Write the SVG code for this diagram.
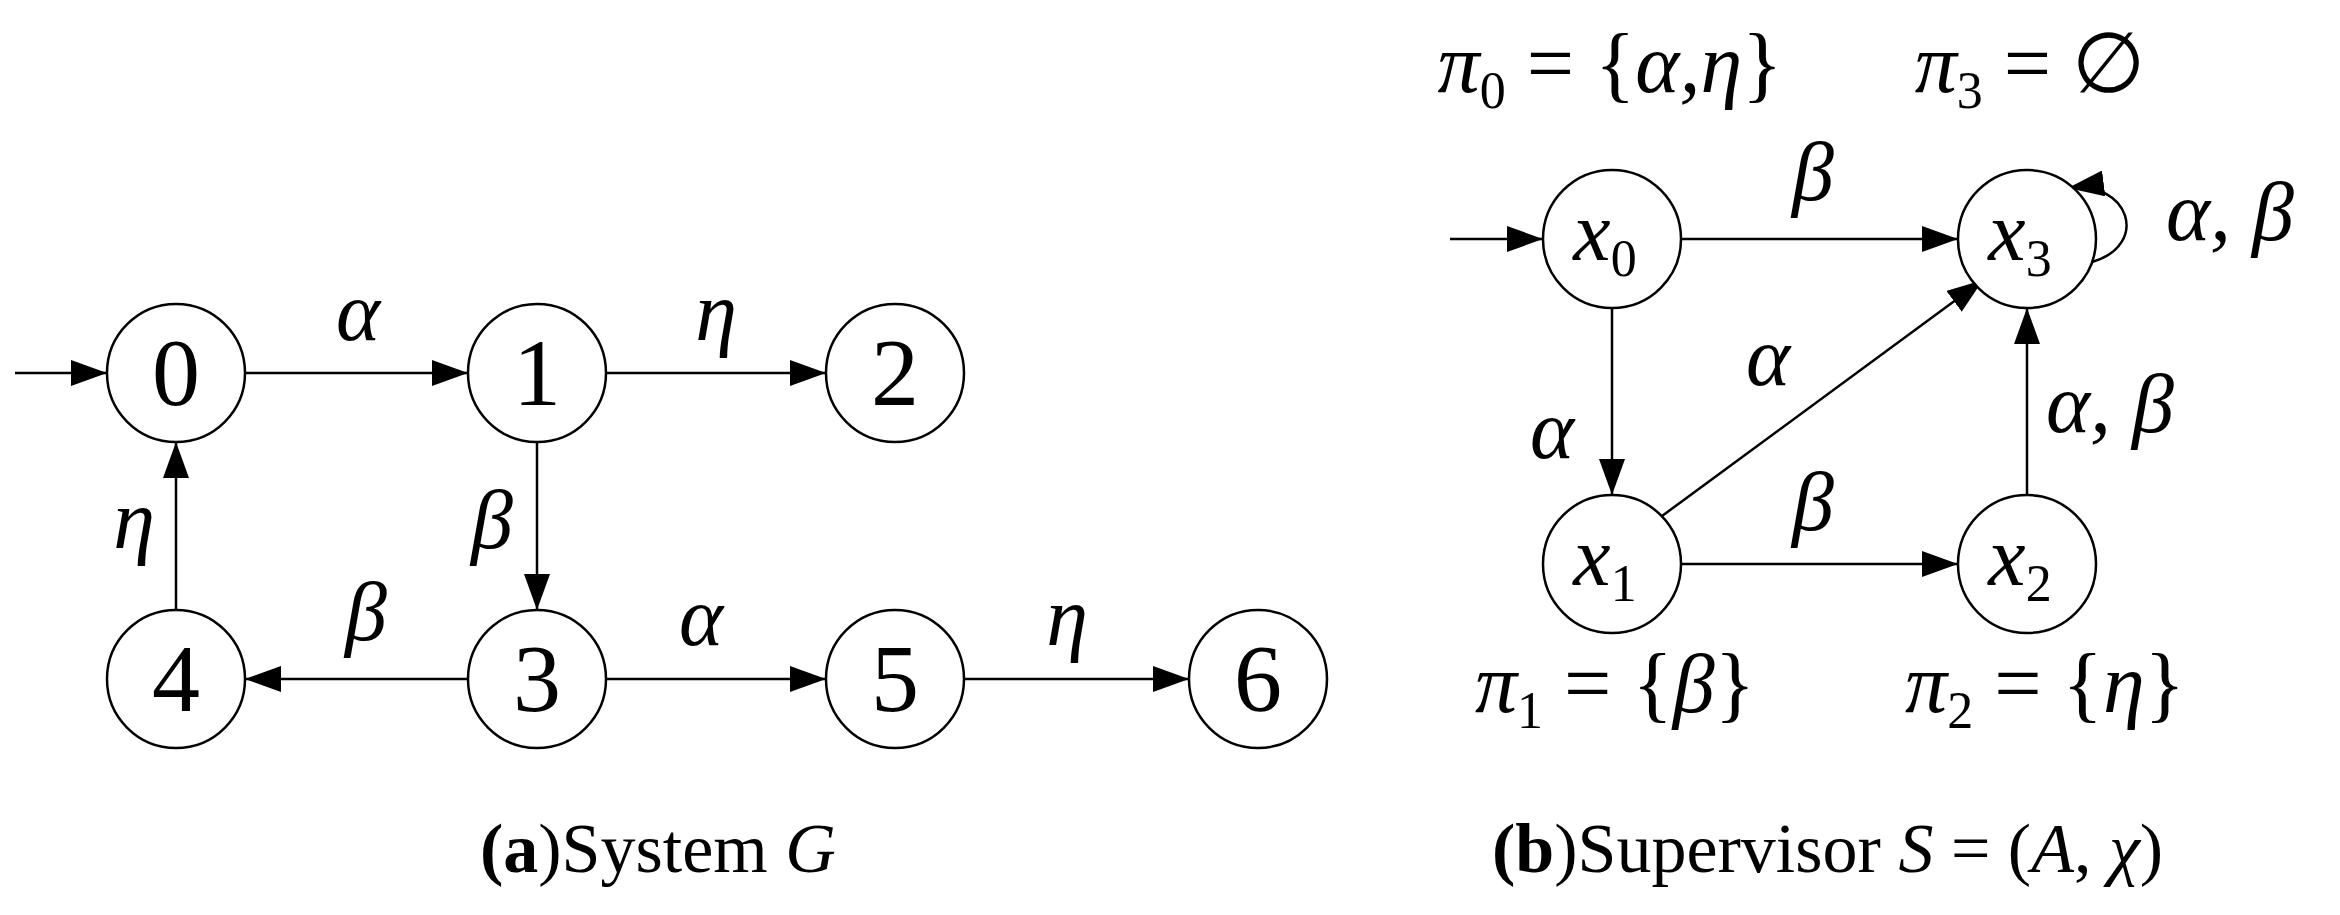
<svg xmlns="http://www.w3.org/2000/svg" width="2340" height="915" viewBox="0 0 2340 915">
<style>
.n{fill:#fff;stroke:#000;stroke-width:2.5}
.t{font-family:'Liberation Serif','DejaVu Serif','Times New Roman',serif;font-size:96px;text-anchor:middle}
.l{font-family:'Liberation Serif','DejaVu Serif','Times New Roman',serif;font-style:italic;font-size:84px;text-anchor:middle}
.s{font-size:52px;font-style:normal}
.c{font-family:'Liberation Serif','DejaVu Serif','Times New Roman',serif;font-size:70px}
</style>
<defs><marker id="b" markerWidth="36" markerHeight="26" refX="36" refY="13" orient="auto" markerUnits="userSpaceOnUse" viewBox="0 0 36 26"><path d="M0,0L36,13L0,26z"/></marker></defs>
<g id="edges" style="stroke:#000;stroke-width:2.5;fill:none">
<path d="M15,373H107" marker-end="url(#b)"/>
<path d="M245,373H468" marker-end="url(#b)"/>
<path d="M606,373H826" marker-end="url(#b)"/>
<path d="M537,442V610" marker-end="url(#b)"/>
<path d="M468,679H245" marker-end="url(#b)"/>
<path d="M606,679H826" marker-end="url(#b)"/>
<path d="M964,679H1189" marker-end="url(#b)"/>
<path d="M176,610V442" marker-end="url(#b)"/>
<path d="M1450,239H1543" marker-end="url(#b)"/>
<path d="M1681,239H1958" marker-end="url(#b)"/>
<path d="M1612,308V495" marker-end="url(#b)"/>
<path d="M1681,564H1958" marker-end="url(#b)"/>
<path d="M2027,495V308" marker-end="url(#b)"/>
<path d="M1662,516L1983,280" marker-end="url(#b)"/>
<path d="M2092,262C2150,245 2130,180 2068,188" marker-end="url(#b)"/>
</g>
<g id="n0"><circle class="n" cx="176" cy="373" r="69"/><text class="t" x="176" y="405">0</text></g>
<g id="n1"><circle class="n" cx="537" cy="373" r="69"/><text class="t" x="537" y="405">1</text></g>
<g id="n2"><circle class="n" cx="895" cy="373" r="69"/><text class="t" x="895" y="405">2</text></g>
<g id="n3"><circle class="n" cx="537" cy="679" r="69"/><text class="t" x="537" y="711">3</text></g>
<g id="n4"><circle class="n" cx="176" cy="679" r="69"/><text class="t" x="176" y="711">4</text></g>
<g id="n5"><circle class="n" cx="895" cy="679" r="69"/><text class="t" x="895" y="711">5</text></g>
<g id="n6"><circle class="n" cx="1258" cy="679" r="69"/><text class="t" x="1258" y="711">6</text></g>
<g id="x0"><circle class="n" cx="1612" cy="239" r="69"/><text class="l" x="1605" y="260">x<tspan class="s" dy="16">0</tspan></text></g>
<g id="x3"><circle class="n" cx="2027" cy="239" r="69"/><text class="l" x="2020" y="260">x<tspan class="s" dy="16">3</tspan></text></g>
<g id="x1"><circle class="n" cx="1612" cy="564" r="69"/><text class="l" x="1605" y="585">x<tspan class="s" dy="16">1</tspan></text></g>
<g id="x2"><circle class="n" cx="2027" cy="564" r="69"/><text class="l" x="2020" y="585">x<tspan class="s" dy="16">2</tspan></text></g>
<g id="labels">
<text class="l" x="358" y="340">α</text>
<text class="l" x="716" y="340">η</text>
<text class="l" x="492" y="548">β</text>
<text class="l" x="134" y="548">η</text>
<text class="l" x="366" y="640">β</text>
<text class="l" x="701" y="645">α</text>
<text class="l" x="1067" y="645">η</text>
<text class="l" x="1813" y="200">β</text>
<text class="l" x="2230" y="240">α, β</text>
<text class="l" x="1552" y="458">α</text>
<text class="l" x="1768" y="385">α</text>
<text class="l" x="2110" y="432">α, β</text>
<text class="l" x="1813" y="530">β</text>
<text class="l" x="1610" y="92">π<tspan class="s" dy="16">0</tspan><tspan dy="-16" font-style="normal"> = {</tspan>α,η<tspan font-style="normal">}</tspan></text>
<text class="l" x="2030" y="92">π<tspan class="s" dy="16">3</tspan><tspan dy="-16" font-style="normal"> = ∅</tspan></text>
<text class="l" x="1615" y="712">π<tspan class="s" dy="16">1</tspan><tspan dy="-16" font-style="normal"> = {</tspan>β<tspan font-style="normal">}</tspan></text>
<text class="l" x="2045" y="712">π<tspan class="s" dy="16">2</tspan><tspan dy="-16" font-style="normal"> = {</tspan>η<tspan font-style="normal">}</tspan></text>
</g>
<g id="captions">
<text class="c" x="480" y="872"><tspan font-weight="bold">(a</tspan>)System <tspan font-style="italic">G</tspan></text>
<text class="c" x="1492" y="872"><tspan font-weight="bold">(b</tspan>)Supervisor <tspan font-style="italic">S</tspan> = (<tspan font-style="italic">A</tspan>, <tspan font-style="italic">χ</tspan>)</text>
</g>
</svg>
